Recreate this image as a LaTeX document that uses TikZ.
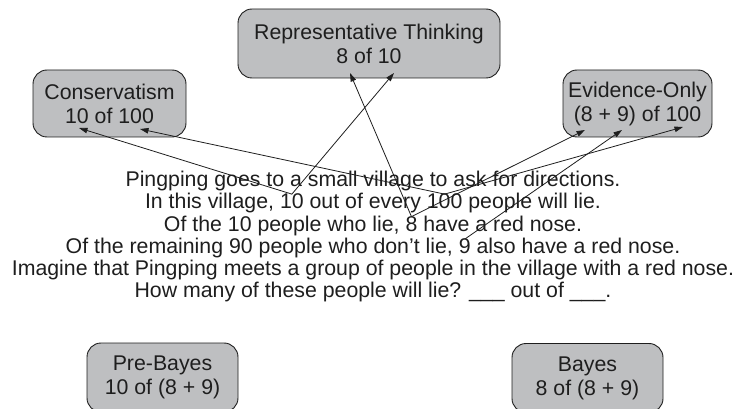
\documentclass[tikz,border=0pt]{standalone}
\usepackage{fontspec}
\setmainfont{Liberation Sans}
\usetikzlibrary{arrows.meta,calc}
\definecolor{boxgray}{HTML}{BEBFC1}
\definecolor{ink}{HTML}{1E1E1E}
\newlength\linewa
\newlength\linewb
\newlength\linewc
\newcommand\fs{\fontsize{21.3pt}{24pt}\selectfont}
\begin{document}
\settowidth\linewa{\fs In this village, 10 out of every 100 people will lie.}%
\settowidth\linewb{\fs Of the 10 people who lie, 8 have a red nose.}%
\settowidth\linewc{\fs Of the remaining 90 people who don’t lie, 9 also have a red nose.}%
\begin{tikzpicture}[x=1pt,y=-1pt,
  every node/.style={font=\fs, text=ink},
  box/.style={draw=ink, line width=0.9pt, fill=boxgray, rounded corners=14pt, align=center, inner sep=0pt},
  piece/.style={inner sep=0pt, outer sep=0pt, anchor=base west},
  textline/.style={inner sep=0pt, outer sep=0pt, anchor=base},
  arr/.style={draw=ink, line width=0.8pt, -{Triangle[length=8.5pt,width=5.5pt]}}]
\useasboundingbox (0,0) rectangle (737,409);
\clip (0,0) rectangle (737,409);
% boxes
\node[box, minimum width=262pt, minimum height=69pt] (rep) at (369,43.5) {Representative Thinking\\8 of 10};
\node[box, minimum width=153pt, minimum height=67pt] (cons) at (109.5,103.5) {Conservatism\\10 of 100};
\node[box, minimum width=149pt, minimum height=67pt] (evid) at (637.5,103.5) {Evidence-Only\\(8 + 9) of 100};
\node[box, minimum width=151pt, minimum height=69pt] (pre) at (162.5,377.5) {Pre-Bayes\\10 of (8 + 9)};
\node[box, minimum width=151pt, minimum height=69pt] (bayes) at (587.5,378) {Bayes\\8 of (8 + 9)};
% text
\node[textline] (t1) at (373,187) {Pingping goes to a small village to ask for directions.};
\coordinate (s2) at (373pt-0.5\linewa,-209pt);
\node[piece] (t2a) at (s2) {In this village,\ \null};
\node[piece] (n10) at (t2a.base east) {10};
\node[piece] (t2b) at (n10.base east) {\null\ out of every\ \null};
\node[piece] (n100) at (t2b.base east) {100};
\node[piece] (t2c) at (n100.base east) {\null\ people will lie.};
\coordinate (s3) at (373pt-0.5\linewb,-231.5pt);
\node[piece] (t3a) at (s3) {Of the 10 people who lie,\ \null};
\node[piece] (n8) at (t3a.base east) {8};
\node[piece] (t3b) at (n8.base east) {\null\ have a red nose.};
\coordinate (s4) at (373pt-0.5\linewc,-254pt);
\node[piece] (t4a) at (s4) {Of the remaining 90 people who don’t lie,\ \null};
\node[piece] (n9) at (t4a.base east) {9};
\node[piece] (t4b) at (n9.base east) {\null\ also have a red nose.};
\node[textline] (t5) at (373,276) {Imagine that Pingping meets a group of people in the village with a red nose.};
\node[textline] (t6) at (373,298) {How many of these people will lie? \_\_\_ out of \_\_\_.};
% arrow targets
\coordinate (c10) at ($(cons.center)+(-30.5,24.5)$);
\coordinate (c100) at ($(cons.center)+(30.5,25.5)$);
\coordinate (r8) at ($(rep.center)+(-19,29.5)$);
\coordinate (r10) at ($(rep.center)+(25,29.5)$);
\coordinate (e8) at ($(evid.center)+(-52.5,26.5)$);
\coordinate (e9) at ($(evid.center)+(-15.5,26.5)$);
\coordinate (e100) at ($(evid.center)+(45.5,23.5)$);
% arrows
\draw[arr] (n10.north) -- (c10);
\draw[arr] (n10.north) -- (r10);
\draw[arr] (n100.north) -- (c100);
\draw[arr] (n100.north) -- (e100);
\draw[arr] (n8.north) -- (r8);
\draw[arr] (n8.north) -- (e8);
\draw[arr] (n9.north) -- (e9);
\end{tikzpicture}
\end{document}
